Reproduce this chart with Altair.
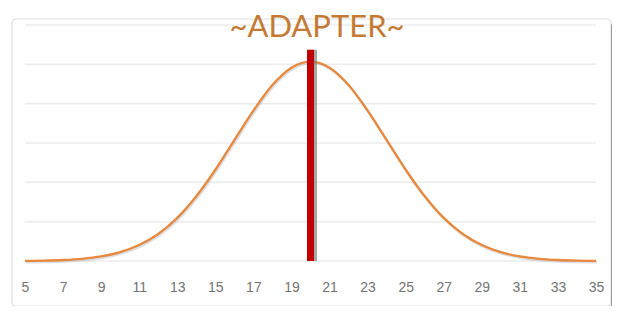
import altair as alt
import pandas as pd

# Distribution values (x categories and curve heights)
x_vals = [5, 6, 7, 8, 9, 10, 11, 12, 13, 14, 15, 16, 17, 18, 19, 20,
          21, 22, 23, 24, 25, 26, 27, 28, 29, 30, 31, 32, 33, 34, 35]
y_vals = [0.0001, 0.0002, 0.0005, 0.0011, 0.0023, 0.0045, 0.0081, 0.0137,
          0.0219, 0.0329, 0.0464, 0.0615, 0.0765, 0.0895, 0.0983, 0.1014,
          0.0983, 0.0895, 0.0765, 0.0615, 0.0464, 0.0329, 0.0219, 0.0137,
          0.0081, 0.0045, 0.0023, 0.0011, 0.0005, 0.0002, 0.0001]
marker_x = [20]
marker_y = [0.1074]
tick_values = [5, 7, 9, 11, 13, 15, 17, 19, 21, 23, 25, 27, 29, 31, 33, 35]
grid_values = [0, 0.02, 0.04, 0.06, 0.08, 0.10, 0.12]
title_text = ["~ADAPTER~"]

curve = pd.DataFrame({"x": x_vals, "y": y_vals})
marker = pd.DataFrame({"x": marker_x, "y": marker_y})
grid_df = pd.DataFrame({"g": grid_values})

xscale = alt.Scale(domain=[5, 35], nice=False, zero=False, padding=0)
yscale = alt.Scale(domain=[0, 0.12], nice=False, padding=0)

xaxis = alt.Axis(values=tick_values, title=None, grid=False, domain=False,
                 ticks=False, labelPadding=19, labelFont="Liberation Sans",
                 labelFontSize=14, labelColor="#737373", format="d",
                 labelOverlap=False, labelFlush=False)

one = pd.DataFrame({"a": [0]})

# frame box around chart
box = alt.Chart(one).mark_rect(
    fillOpacity=0, stroke="#dedede", strokeWidth=1.2, cornerRadius=4
).encode(x=alt.value(-13), x2=alt.value(586), y=alt.value(-6), y2=alt.value(281))

box_shadow = alt.Chart(one).mark_rect(
    fill="#8f8f8f", opacity=0.85, cornerRadius=2
).encode(x=alt.value(586), x2=alt.value(589), y=alt.value(-1), y2=alt.value(283))

gridlines = alt.Chart(grid_df).mark_rule(color="#ececec", strokeWidth=1.5).encode(
    y=alt.Y("g:Q", scale=yscale, axis=None),
    x=alt.value(0), x2=alt.value(571),
)

title = alt.Chart(pd.DataFrame({"t": title_text})).mark_text(
    font="Lato", fontSize=31, fontWeight="normal", color="#c47a34",
    baseline="alphabetic", align="center"
).encode(text="t:N", x=alt.value(292), y=alt.value(12))

base = alt.Chart(curve)

line_shadow = base.mark_line(
    color="#9aa4b0", strokeWidth=2.5, opacity=0.35, interpolate="monotone",
    xOffset=1, yOffset=1.5
).encode(x=alt.X("x:Q", scale=xscale, axis=xaxis),
         y=alt.Y("y:Q", scale=yscale, axis=None))

line = base.mark_line(
    color="#e8883c", strokeWidth=2.3, interpolate="monotone"
).encode(x=alt.X("x:Q", scale=xscale, axis=xaxis),
         y=alt.Y("y:Q", scale=yscale, axis=None))

bar_shadow = alt.Chart(marker).mark_bar(
    color="#6b6b6b", opacity=0.6, size=8, xOffset=2.5
).encode(x=alt.X("x:Q", scale=xscale, axis=xaxis),
         y=alt.Y("y:Q", scale=yscale, axis=None))

bar = alt.Chart(marker).mark_bar(
    color="#c00000", size=7
).encode(x=alt.X("x:Q", scale=xscale, axis=xaxis),
         y=alt.Y("y:Q", scale=yscale, axis=None))

chart = alt.layer(
    box, box_shadow, gridlines, line_shadow, line, bar_shadow, bar, title
).properties(
    width=571, height=236,
    autosize=alt.AutoSizeParams(type="none"),
    padding={"left": 17, "top": 17, "right": 16, "bottom": 45},
).configure_view(stroke=None).configure_axis(labelOverlap=False)

chart.save("out.html", embed_options={"renderer": "svg", "actions": False})
